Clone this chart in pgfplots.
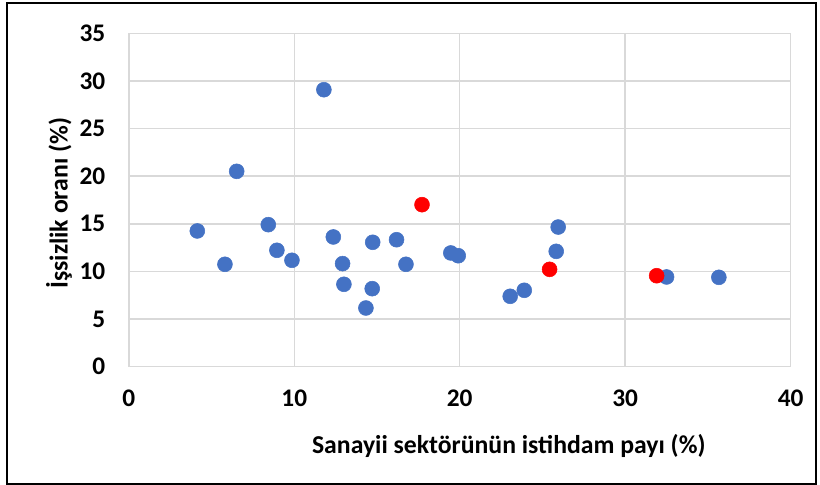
\documentclass[border=0pt]{standalone}
\usepackage{fontspec}
\setmainfont{Carlito}
\usepackage{pgfplots}
\pgfplotsset{compat=1.18}
\definecolor{xblue}{HTML}{4472C4}
\definecolor{xred}{HTML}{FF0000}
\definecolor{xgrid}{HTML}{D9D9D9}
\begin{document}
\begin{tikzpicture}
\useasboundingbox (-96.6pt,-88.7pt) rectangle (518.4pt,275pt);
\begin{axis}[
  scale only axis,
  width=496.4pt, height=250pt,
  xmin=0, xmax=40, ymin=0, ymax=35,
  xtick={0,10,20,30,40}, ytick={0,5,10,15,20,25,30,35},
  grid=major,
  major grid style={xgrid, line width=1.1pt},
  axis line style={xgrid, line width=1.1pt},
  tick style={draw=none},
  /pgf/number format/assume math mode=true,
  tick label style={font=\fontsize{19}{19}\selectfont\bfseries, inner sep=0pt},
  xticklabel shift=17.5pt,
  yticklabel shift=17.5pt,
  xlabel={Sanayii sektörünün istihdam payı (\%)},
  ylabel={İşsizlik oranı (\%)},
  label style={font=\fontsize{19.3}{19.3}\selectfont\bfseries, inner sep=0pt},
  xlabel style={at={(axis description cs:0.574,-0.259)}, anchor=base},
  ylabel style={at={(axis description cs:-0.1055,0.49)}, anchor=center},
  clip=false,
]
\addplot[only marks, mark=*, mark size=5.6pt, mark options={draw=xblue, fill=xblue}] coordinates {
(4.14,14.25)
(5.81,10.75)
(6.52,20.51)
(8.43,14.91)
(8.95,12.22)
(9.86,11.17)
(11.79,29.08)
(12.36,13.62)
(12.92,10.82)
(13.0,8.65)
(14.33,6.16)
(14.74,13.06)
(14.71,8.19)
(16.18,13.33)
(16.75,10.75)
(19.46,11.94)
(19.91,11.65)
(23.05,7.39)
(23.9,8.02)
(25.83,12.11)
(25.95,14.66)
(32.5,9.42)
(35.66,9.38)
};
\addplot[only marks, mark=*, mark size=5.6pt, mark options={draw=xred, fill=xred}] coordinates {
(17.72,17.01)
(25.43,10.22)
(31.9,9.55)
};
\end{axis}
\draw[black, line width=1.1pt] (-91.35pt,-88pt) rectangle (515.4pt,272.8pt);
\end{tikzpicture}
\end{document}
